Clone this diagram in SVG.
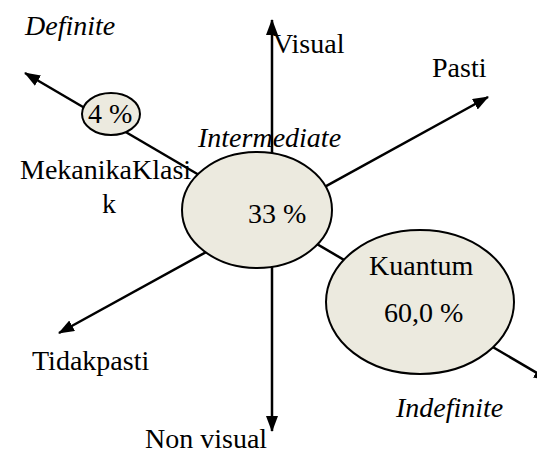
<svg xmlns="http://www.w3.org/2000/svg" width="537" height="454" viewBox="0 0 537 454">
<style>
text{font-family:'Liberation Serif','DejaVu Serif',serif;font-size:28px;fill:#000}
.i{font-style:italic}
.ax{stroke:#000;stroke-width:2.5;fill:none}
.el{fill:#ECEADF;stroke:#000;stroke-width:2}
</style>
<defs>
<marker id="ah" viewBox="0 0 16 12" refX="15" refY="6" markerWidth="16" markerHeight="12" markerUnits="userSpaceOnUse" orient="auto-start-reverse">
<path d="M0,0 L16,6 L0,12 z" fill="#000"/>
</marker>
</defs>
<g id="connectors">
<line class="ax" x1="272" y1="431" x2="272" y2="20" marker-start="url(#ah)" marker-end="url(#ah)"/>
<line class="ax" x1="59" y1="333" x2="488" y2="97" marker-start="url(#ah)" marker-end="url(#ah)"/>
<line class="ax" x1="25" y1="73" x2="549" y2="380" marker-start="url(#ah)" marker-end="url(#ah)"/>
</g>
<g id="node-klasik">
<ellipse class="el" cx="111" cy="114" rx="29" ry="21"/>
<text x="88" y="123" font-family="Liberation Serif, serif">4 %</text>
</g>
<g id="node-intermediate">
<ellipse class="el" cx="257" cy="210" rx="75" ry="58"/>
<text x="248" y="223" font-family="Liberation Serif, serif">33 %</text>
</g>
<g id="node-kuantum">
<ellipse class="el" cx="420" cy="302" rx="94" ry="72"/>
<text x="369" y="275" font-family="Liberation Serif, serif">Kuantum</text>
<text x="384" y="322" font-family="Liberation Serif, serif">60,0 %</text>
</g>
<g id="labels" font-family="Liberation Serif, serif">
<text class="i" x="25" y="35">Definite</text>
<text x="273" y="53">Visual</text>
<text x="432" y="77">Pasti</text>
<text class="i" x="198" y="147">Intermediate</text>
<text x="20" y="179">MekanikaKlasi</text>
<text x="102" y="213">k</text>
<text x="32" y="370">Tidakpasti</text>
<text x="145" y="448">Non visual</text>
<text class="i" x="396" y="417">Indefinite</text>
</g>
</svg>
